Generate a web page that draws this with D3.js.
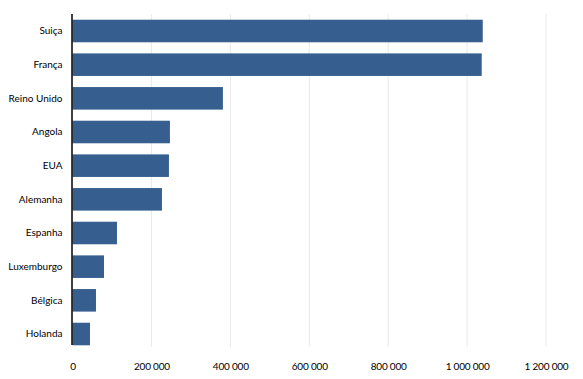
<!DOCTYPE html>
<html>
<head>
<meta charset="utf-8">
<script src="https://cdn.jsdelivr.net/npm/d3@7"></script>
<style>
  body { margin: 0; background: #fff; }
  svg { display: block; font-family: Lato, "Open Sans", sans-serif; }
  .tick text { fill: #000; }
</style>
</head>
<body>
<svg id="chart" width="583" height="379"></svg>
<script>
// country names and values
const countries = ["Suiça", "França", "Reino Unido", "Angola", "EUA", "Alemanha", "Espanha", "Luxemburgo", "Bélgica", "Holanda"];
const values = [1039700, 1037100, 381200, 246900, 244400, 226700, 112700, 79800, 59500, 44300];
const xTicks = [0, 200000, 400000, 600000, 800000, 1000000, 1200000];

const svg = d3.select("#chart");
const margin = { top: 14, right: 37, bottom: 28, left: 72.5 };
const width = 583 - margin.left - margin.right;

const g = svg.append("g").attr("transform", `translate(${margin.left},${margin.top})`);

const x = d3.scaleLinear().domain([0, 1200000]).range([0, width]);
const y = d3.scaleBand().domain(countries).range([0, 337]).paddingInner(0.33).paddingOuter(0.17);

const pt = d3.formatLocale({ decimal: ",", thousands: " ", grouping: [3], currency: ["", "€"] });
const fmt = pt.format(",d");

// vertical gridlines
g.append("g")
  .selectAll("line")
  .data(xTicks.slice(1))
  .join("line")
  .attr("x1", (d) => x(d))
  .attr("x2", (d) => x(d))
  .attr("y1", 0)
  .attr("y2", 333)
  .attr("stroke", "#e9e9e9")
  .attr("stroke-width", 1);

// bars
g.append("g")
  .attr("fill", "#365f8f")
  .selectAll("rect")
  .data(countries)
  .join("rect")
  .attr("x", 0)
  .attr("y", (d) => y(d))
  .attr("width", (d, i) => x(values[i]))
  .attr("height", y.bandwidth());

// x axis (labels only)
const xAxis = d3.axisBottom(x).tickValues(xTicks).tickFormat(fmt).tickSize(0).tickPadding(0);
const xg = g.append("g").attr("transform", `translate(0,${353})`).call(xAxis);
xg.select(".domain").remove();
xg.selectAll("text").attr("font-size", 10).attr("font-family", "Lato, sans-serif").attr("dy", "0.32em").attr("letter-spacing", "-0.2");

// y axis
const yAxis = d3.axisLeft(y).tickSize(0).tickPadding(10);
const yg = g.append("g").call(yAxis);
yg.select(".domain").remove();
yg.selectAll("text").attr("font-size", 10).attr("font-family", "Lato, sans-serif");

// black baseline
g.append("line")
  .attr("x1", -0.5).attr("x2", -0.5)
  .attr("y1", 0).attr("y2", 331)
  .attr("stroke", "#000")
  .attr("stroke-width", 1.5);
</script>
</body>
</html>
